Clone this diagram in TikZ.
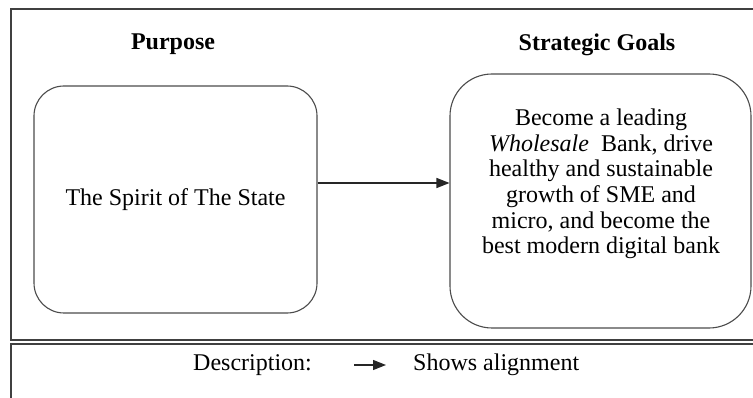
\documentclass[tikz,border=0pt]{standalone}
\usepackage{fontspec}
\setmainfont{Liberation Serif}
\usetikzlibrary{arrows.meta,calc}
\begin{document}
\begin{tikzpicture}[x=1pt,y=1pt,
  every node/.style={font=\fontsize{24}{25.7}\selectfont, inner sep=0pt},
  heading/.style={font=\fontsize{24}{25.7}\selectfont\bfseries},
  goalbox/.style={draw=black!70, line width=1.1pt, rounded corners=#1, align=center},
  frame/.style={draw=black!75, line width=1.4pt},
  link/.style={draw=black!85, line width=1.3pt, -{Triangle[length=13pt,width=10pt]}}
]
\useasboundingbox (0,0) rectangle (753,-398);
\clip (0,0) rectangle (753,-398);
\fill[white] (0,0) rectangle (753,-398);
% frames
\draw[frame] (11,-9) rectangle (770,-340);
\draw[frame] (11,-344) rectangle (770,-420);
% headings
\node[heading] (hp) at (173,-44) {Purpose};
\node[heading] (hg) at (597,-45) {Strategic Goals};
% boxes
\node[goalbox=30pt, minimum width=283pt, minimum height=227pt] (purpose) at (175.5,-199.5) {The Spirit of The State};
\node[goalbox=42pt, minimum width=301pt, minimum height=254pt] (goals) at (600.5,-201) {};
\node[align=center] (goaltext) at (601,-184) {Become a leading\\ \textit{Wholesale}\ \ Bank, drive\\ healthy and sustainable\\ growth of SME and\\ micro, and become the\\ best modern digital bank};
\coordinate (ay) at (0,-183);
\draw[link] (purpose.east |- ay) -- (goals.west |- ay);
% legend
\node[anchor=west] (desc) at (193,-365) {Description:};
\node[anchor=west] (shows) at (413,-365) {Shows alignment};
\draw[link] ([xshift=42pt]desc.east) -- ([xshift=-27pt]shows.west);
\end{tikzpicture}
\end{document}
